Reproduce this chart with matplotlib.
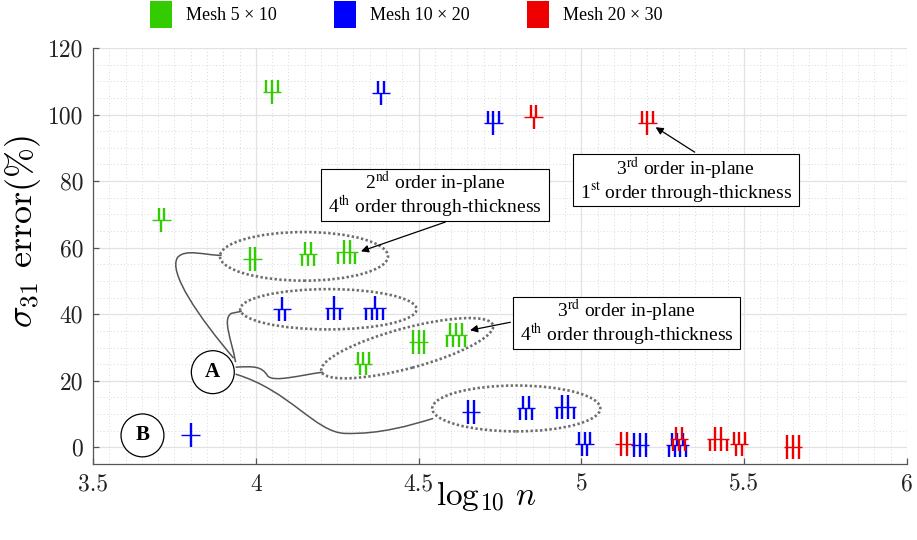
import matplotlib
matplotlib.use("Agg")
import matplotlib.pyplot as plt
import matplotlib.transforms as mtransforms
from matplotlib.collections import LineCollection
from matplotlib.patches import Ellipse, Patch, PathPatch, Rectangle
from matplotlib.path import Path

plt.rcParams['mathtext.fontset'] = 'cm'

# log10 of the number of DOFs, sigma_31 error (%) and the in-plane (p) and
# through-thickness (q) orders of each run
green_logn = [3.71, 3.99, 4.16, 4.28, 4.05, 4.33, 4.50, 4.615]
green_err = [68.3, 56.5, 58.0, 58.7, 106.9, 25.2, 31.7, 33.7]
green_p = [2, 2, 2, 2, 3, 3, 3, 3]
green_q = [1, 2, 3, 4, 1, 2, 3, 4]

blue_logn = [3.80, 4.08, 4.24, 4.365, 4.385, 4.66, 4.83, 4.95, 4.73, 5.01, 5.18, 5.295]
blue_err = [3.8, 41.5, 42.0, 42.0, 106.4, 10.6, 11.9, 12.1, 97.6, 1.1, 0.6, 0.6]
blue_p = [1, 1, 1, 1, 2, 2, 2, 2, 3, 3, 3, 3]
blue_q = [1, 2, 3, 4, 1, 2, 3, 4, 1, 2, 3, 4]

red_logn = [4.853, 5.13, 5.30, 5.42, 5.203, 5.485, 5.65]
red_err = [99.3, 1.1, 2.6, 2.6, 97.4, 1.1, 0.0]
red_p = [2, 2, 2, 2, 3, 3, 3]
red_q = [1, 2, 3, 4, 1, 2, 3]

mesh_labels = ['Mesh 5 × 10', 'Mesh 10 × 20', 'Mesh 20 × 30']
mesh_colors = ['#33cc00', '#0000ff', '#ee0000']

x_ticks = [3.5, 4, 4.5, 5, 5.5, 6]
x_ticklabels = ['3.5', '4', '4.5', '5', '5.5', '6']
y_ticks = [0, 20, 40, 60, 80, 100, 120]

# glyph geometry in points: line gap, arm length, bar half width
GAP = 4.1
ARM = 8.6
BAR = 6.6


def offset_trans(ax, x, y):
    # points around a data location
    return (mtransforms.Affine2D().scale(ax.figure.dpi / 72.0)
            + mtransforms.ScaledTranslation(x, y, ax.transData))


def draw_glyph(ax, x, y, p, q, color):
    # p strokes above the bar, q strokes below it
    trans = offset_trans(ax, x, y)
    segs = []
    for i in range(p):
        xo = (i - (p - 1) / 2) * GAP
        segs.append([(xo, 0), (xo, ARM)])
    for i in range(q):
        xo = (i - (q - 1) / 2) * GAP
        segs.append([(xo, 0), (xo, -ARM)])
    lc = LineCollection(segs, colors=color, linewidths=1.7,
                        transform=trans, capstyle='butt', zorder=4)
    ax.add_collection(lc)
    half = max(BAR, (max(p, q) - 1) * GAP / 2 + 2.0)
    ax.plot([-half, half], [0, 0], color=color, lw=1.0,
            transform=trans, zorder=4, solid_capstyle='butt')


def draw_group(ax, x, y, w, h, angle=0):
    e = Ellipse((0, 0), w, h, angle=angle, fill=False, ec='#6e6e6e',
                lw=1.9, ls=(0, (0.9, 0.9)), transform=offset_trans(ax, x, y),
                zorder=3)
    ax.add_patch(e)


def draw_link(ax, verts, codes):
    pp = PathPatch(Path(verts, codes), fill=False, ec='#555555', lw=1.1, zorder=3)
    ax.add_patch(pp)


fig = plt.figure(figsize=(9.17, 5.40), dpi=100)
ax = fig.add_axes([0.1014, 0.1407, 0.8877, 0.7704])

ax.set_xlim(3.5, 6)
ax.set_ylim(-5, 120)
ax.set_xticks(x_ticks)
ax.set_xticklabels(x_ticklabels)
ax.set_yticks(y_ticks)
ax.set_xticks([3.5 + 0.05 * i for i in range(51)], minor=True)
ax.set_yticks([-5 + 5 * i for i in range(26)], minor=True)
ax.grid(True, which='major', color='#e2e2e2', lw=0.9)
ax.grid(True, which='minor', color='#d9d9d9', lw=0.7, ls=(0, (1, 2.5)))
ax.set_axisbelow(True)
for side in ['top', 'right']:
    ax.spines[side].set_visible(False)
for side in ['left', 'bottom']:
    ax.spines[side].set_color('#555555')
    ax.spines[side].set_linewidth(0.9)
ax.tick_params(which='major', direction='in', length=4.5, width=0.9,
               colors='#555555', labelcolor='#222222', labelsize=17,
               labelfontfamily='cmr10', pad=7)
ax.tick_params(which='minor', length=0)

ax.set_xlabel(r'$\log_{10}\,n$', fontsize=24)
ax.xaxis.set_label_coords(0.483, -0.035)
ax.set_ylabel(r'$\sigma_{31}$ error(%)', fontsize=26, family='cmr10',
              math_fontfamily='cm')
ax.yaxis.set_label_coords(-0.062, 0.56)

# groups of runs sharing one in-plane order
draw_group(ax, 4.148, 57.4, 121, 35)
draw_group(ax, 4.223, 41.5, 127, 29)
draw_group(ax, 4.465, 29.8, 128, 29, angle=15)
draw_group(ax, 4.80, 11.7, 121, 33)

C = Path.CURVE4
draw_link(ax, [(3.932, 26.8), (3.828, 38.8), (3.729, 52.6), (3.760, 57.1),
               (3.785, 59.8), (3.843, 57.7), (3.895, 57.7)],
          [Path.MOVETO, C, C, C, C, C, C])
draw_link(ax, [(3.938, 25.6), (3.926, 32.2), (3.895, 38.8), (3.926, 40.3),
               (3.957, 40.9)],
          [Path.MOVETO, C, C, C, Path.LINETO])
draw_link(ax, [(3.938, 24.1), (3.997, 24.4), (4.018, 24.4), (4.037, 21.4),
               (4.058, 19.5), (4.135, 21.7), (4.206, 22.6)],
          [Path.MOVETO, C, C, C, C, C, C])
draw_link(ax, [(3.938, 22.0), (4.105, 17.1), (4.182, 4.5), (4.274, 4.2),
               (4.382, 3.9), (4.474, 6.6), (4.545, 8.7)],
          [Path.MOVETO, C, C, C, C, C, C])

series = [(green_logn, green_err, green_p, green_q),
          (blue_logn, blue_err, blue_p, blue_q),
          (red_logn, red_err, red_p, red_q)]
for (xs, ys, ps, qs), color in zip(series, mesh_colors):
    for x, y, p, q in zip(xs, ys, ps, qs):
        draw_glyph(ax, x, y, p, q, color)

circ = dict(boxstyle='circle,pad=0.55', fc='white', ec='black', lw=0.9)
for label, (cx, cy) in [('A', (3.868, 22.6)), ('B', (3.652, 3.6))]:
    ax.text(cx, cy, label, ha='center', va='center', fontsize=15,
            fontweight='bold', family='Liberation Serif', bbox=circ, zorder=6)

notes = [
    ('2$^{\\mathrm{nd}}$ order in-plane\n4$^{\\mathrm{th}}$ order through-thickness',
     (4.551, 75.8), (4.582, 67.7), (4.323, 58.9)),
    ('3$^{\\mathrm{rd}}$ order in-plane\n1$^{\\mathrm{st}}$ order through-thickness',
     (5.32, 80.3), (5.348, 88.7), (5.228, 96.2)),
    ('3$^{\\mathrm{rd}}$ order in-plane\n4$^{\\mathrm{th}}$ order through-thickness',
     (5.138, 37.3), (4.782, 37.6), (4.658, 35.2)),
]
note_texts = []
for txt, pos, start, tip in notes:
    ax.annotate('', xy=tip, xytext=start,
                arrowprops=dict(arrowstyle='-|>', color='black', lw=0.9,
                                mutation_scale=11, shrinkA=0, shrinkB=0),
                zorder=5)
    t = ax.text(pos[0], pos[1], txt, ha='center', va='center', fontsize=14,
                family='Liberation Serif', math_fontfamily='stix',
                linespacing=0.9, zorder=7)
    note_texts.append(t)

handles = [Patch(facecolor=c, edgecolor='none', label=l)
           for c, l in zip(mesh_colors, mesh_labels)]
fig.legend(handles=handles, loc='center', bbox_to_anchor=(0.443, 0.973),
           ncol=3, frameon=False, prop={'family': 'Liberation Serif', 'size': 13},
           handlelength=1.22, handleheight=1.92, handletextpad=0.75,
           columnspacing=3.2, borderaxespad=0, borderpad=0)

# white boxes sized to the note text (pixels)
fig.canvas.draw()
renderer = fig.canvas.get_renderer()
for t in note_texts:
    bb = t.get_window_extent(renderer)
    w = bb.width + 14
    h = 52
    cx, cy = (bb.x0 + bb.x1) / 2, (bb.y0 + bb.y1) / 2
    ax.add_patch(Rectangle((cx - w / 2, cy - h / 2), w, h, fc='white', ec='black',
                           lw=0.8, transform=mtransforms.IdentityTransform(),
                           zorder=6))

fig.savefig('out.png', dpi=100)
